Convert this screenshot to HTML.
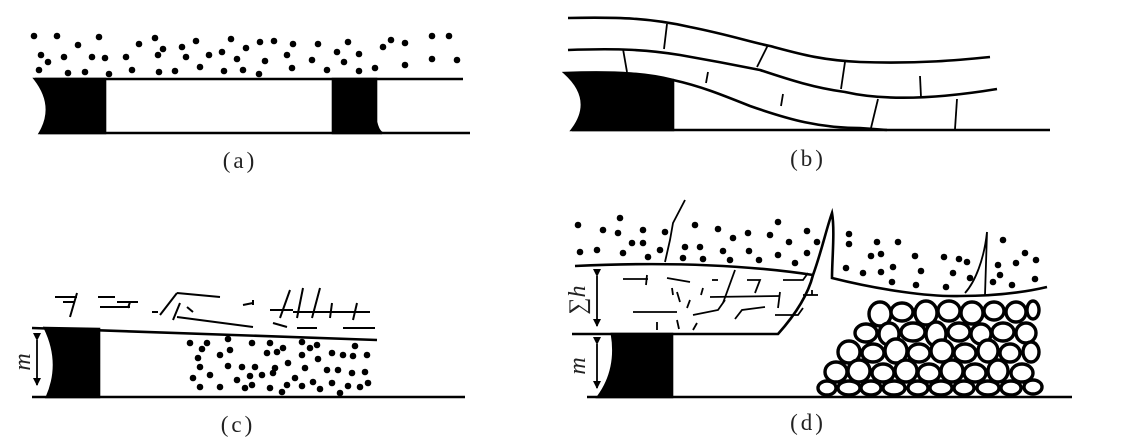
<!DOCTYPE html>
<html><head><meta charset="utf-8"><style>
html,body{margin:0;padding:0;background:#fff;}
svg{display:block;}
text{font-family:"Liberation Serif",serif;fill:#222;}
</style></head><body>
<svg width="1138" height="446" viewBox="0 0 1138 446" xmlns="http://www.w3.org/2000/svg">
<defs>
<marker id="ah" markerWidth="8" markerHeight="10" refX="7" refY="5" orient="auto" markerUnits="userSpaceOnUse">
<path d="M0,1 L8,5 L0,9 Z" fill="#000"/></marker>
</defs>
<g stroke="#000" fill="none" stroke-width="2.6">
<line x1="35" y1="79" x2="463" y2="79"/>
<line x1="40" y1="133" x2="470" y2="133"/>
<path d="M35,79 L105,79 L105,133 L40,133 Q56,106 35,79 Z" fill="#000"/>
<path d="M333,79 L376,79 L376,122 Q378,131 382,133 L333,133 Z" fill="#000"/>
</g>
<g fill="#000">
<circle cx="34" cy="36" r="3.3"/><circle cx="57" cy="36" r="3.3"/><circle cx="99" cy="37" r="3.3"/><circle cx="78" cy="45" r="3.3"/><circle cx="41" cy="55" r="3.3"/><circle cx="48" cy="62" r="3.3"/><circle cx="64" cy="57" r="3.3"/><circle cx="39" cy="70" r="3.3"/><circle cx="68" cy="73" r="3.3"/><circle cx="85" cy="72" r="3.3"/><circle cx="92" cy="57" r="3.3"/><circle cx="105" cy="58" r="3.3"/><circle cx="109" cy="74" r="3.3"/><circle cx="126" cy="57" r="3.3"/><circle cx="132" cy="70" r="3.3"/><circle cx="139" cy="44" r="3.3"/><circle cx="155" cy="38" r="3.3"/><circle cx="163" cy="49" r="3.3"/><circle cx="158" cy="55" r="3.3"/><circle cx="159" cy="72" r="3.3"/><circle cx="175" cy="71" r="3.3"/><circle cx="182" cy="47" r="3.3"/><circle cx="186" cy="57" r="3.3"/><circle cx="196" cy="41" r="3.3"/><circle cx="200" cy="67" r="3.3"/><circle cx="209" cy="55" r="3.3"/><circle cx="222" cy="52" r="3.3"/><circle cx="231" cy="39" r="3.3"/><circle cx="237" cy="59" r="3.3"/><circle cx="246" cy="48" r="3.3"/><circle cx="224" cy="71" r="3.3"/><circle cx="243" cy="70" r="3.3"/><circle cx="260" cy="42" r="3.3"/><circle cx="265" cy="61" r="3.3"/><circle cx="274" cy="41" r="3.3"/><circle cx="259" cy="74" r="3.3"/><circle cx="293" cy="44" r="3.3"/><circle cx="287" cy="55" r="3.3"/><circle cx="292" cy="68" r="3.3"/><circle cx="318" cy="44" r="3.3"/><circle cx="312" cy="60" r="3.3"/><circle cx="327" cy="70" r="3.3"/><circle cx="348" cy="42" r="3.3"/><circle cx="337" cy="52" r="3.3"/><circle cx="344" cy="62" r="3.3"/><circle cx="359" cy="54" r="3.3"/><circle cx="359" cy="71" r="3.3"/><circle cx="375" cy="68" r="3.3"/><circle cx="383" cy="47" r="3.3"/><circle cx="391" cy="40" r="3.3"/><circle cx="405" cy="43" r="3.3"/><circle cx="405" cy="65" r="3.3"/><circle cx="432" cy="36" r="3.3"/><circle cx="449" cy="36" r="3.3"/><circle cx="432" cy="59" r="3.3"/><circle cx="457" cy="60" r="3.3"/>
</g>
<text x="240" y="168" font-size="23" text-anchor="middle" letter-spacing="3">(a)</text>

<g stroke="#000" fill="none" stroke-width="2.6">
<path d="M568,18 C620,17 650,18 690,27 C730,35 750,42 770,46 C800,54 820,60 860,62 C920,64 960,60 990,57"/>
<path d="M568,50 C620,48 650,50 680,55 C720,62 740,66 760,70 C790,80 815,88 845,92 C880,100 930,100 997,89"/>
<path d="M673,80 C700,86 720,94 750,106 C790,120 820,128 860,128 L887,130"/>
<line x1="572" y1="130" x2="1050" y2="130"/>
<path d="M565,73 C620,71 650,74 673,80 L673,130 L572,130 Q595,100 565,73 Z" fill="#000"/>
<g stroke-width="1.8">
<line x1="667" y1="24" x2="664" y2="49"/><line x1="768" y1="45" x2="757" y2="67"/><line x1="845" y1="62" x2="841" y2="89"/>
<line x1="623" y1="49" x2="627" y2="72"/><line x1="708" y1="72" x2="706" y2="83"/><line x1="783" y1="94" x2="781" y2="106"/>
<line x1="878" y1="99" x2="871" y2="128"/><line x1="920" y1="76" x2="921" y2="97"/><line x1="957" y1="99" x2="955" y2="129"/>
</g>
</g>
<text x="808" y="166" font-size="23" text-anchor="middle" letter-spacing="3">(b)</text>

<g stroke="#000" fill="none" stroke-width="2.6">
<line x1="32" y1="328" x2="377" y2="340"/>
<line x1="32" y1="397" x2="465" y2="397"/>
<path d="M45,328 L99,329 L99,397 L47,397 Q62,363 45,328 Z" fill="#000"/>
<line x1="37" y1="340" x2="37" y2="385" stroke-width="1.8" marker-end="url(#ah)" marker-start="url(#ah)"/>
<g stroke-width="2">
<line x1="55" y1="297" x2="77" y2="297"/><line x1="63" y1="302" x2="75" y2="302"/><line x1="77" y1="293" x2="70" y2="317"/>
<line x1="98" y1="297" x2="115" y2="297"/><line x1="100" y1="307" x2="130" y2="307"/><line x1="130" y1="302" x2="128" y2="308"/><line x1="117" y1="302" x2="138" y2="302"/>
<line x1="152" y1="312" x2="158" y2="312"/><line x1="160" y1="315" x2="177" y2="293"/><line x1="177" y1="293" x2="220" y2="297"/><line x1="180" y1="303" x2="173" y2="320"/><line x1="177" y1="317" x2="253" y2="327"/><line x1="187" y1="307" x2="193" y2="312"/>
<line x1="243" y1="305" x2="253" y2="303"/><line x1="253" y1="300" x2="253" y2="305"/>
<line x1="270" y1="310" x2="293" y2="310"/><line x1="290" y1="290" x2="280" y2="318"/><line x1="303" y1="288" x2="297" y2="318"/><line x1="320" y1="288" x2="312" y2="318"/><line x1="293" y1="312" x2="343" y2="312"/><line x1="332" y1="303" x2="330" y2="318"/>
<line x1="357" y1="303" x2="353" y2="320"/><line x1="343" y1="312" x2="370" y2="312"/>
<line x1="273" y1="323" x2="287" y2="327"/><line x1="297" y1="328" x2="317" y2="328"/><line x1="343" y1="328" x2="375" y2="328"/>
</g>
</g>
<text x="22" y="362" font-size="24" font-style="italic" text-anchor="middle" transform="rotate(-90 22 362)" dy="8">m</text>
<g fill="#000">
<circle cx="190" cy="343" r="3.3"/><circle cx="207" cy="343" r="3.3"/><circle cx="202" cy="349" r="3.3"/><circle cx="198" cy="358" r="3.3"/><circle cx="200" cy="367" r="3.3"/><circle cx="193" cy="378" r="3.3"/><circle cx="210" cy="375" r="3.3"/><circle cx="200" cy="387" r="3.3"/><circle cx="228" cy="339" r="3.3"/><circle cx="230" cy="350" r="3.3"/><circle cx="220" cy="355" r="3.3"/><circle cx="228" cy="366" r="3.3"/><circle cx="220" cy="387" r="3.3"/><circle cx="237" cy="380" r="3.3"/><circle cx="242" cy="367" r="3.3"/><circle cx="245" cy="388" r="3.3"/><circle cx="252" cy="343" r="3.3"/><circle cx="252" cy="385" r="3.3"/><circle cx="250" cy="376" r="3.3"/><circle cx="255" cy="367" r="3.3"/><circle cx="262" cy="375" r="3.3"/><circle cx="270" cy="343" r="3.3"/><circle cx="267" cy="353" r="3.3"/><circle cx="277" cy="352" r="3.3"/><circle cx="275" cy="368" r="3.3"/><circle cx="273" cy="373" r="3.3"/><circle cx="270" cy="388" r="3.3"/><circle cx="283" cy="348" r="3.3"/><circle cx="282" cy="392" r="3.3"/><circle cx="288" cy="363" r="3.3"/><circle cx="287" cy="385" r="3.3"/><circle cx="295" cy="378" r="3.3"/><circle cx="302" cy="342" r="3.3"/><circle cx="302" cy="355" r="3.3"/><circle cx="310" cy="348" r="3.3"/><circle cx="317" cy="345" r="3.3"/><circle cx="318" cy="359" r="3.3"/><circle cx="305" cy="368" r="3.3"/><circle cx="302" cy="386" r="3.3"/><circle cx="313" cy="382" r="3.3"/><circle cx="320" cy="389" r="3.3"/><circle cx="327" cy="370" r="3.3"/><circle cx="332" cy="353" r="3.3"/><circle cx="332" cy="383" r="3.3"/><circle cx="338" cy="370" r="3.3"/><circle cx="340" cy="393" r="3.3"/><circle cx="343" cy="355" r="3.3"/><circle cx="352" cy="373" r="3.3"/><circle cx="348" cy="386" r="3.3"/><circle cx="355" cy="346" r="3.3"/><circle cx="353" cy="356" r="3.3"/><circle cx="360" cy="387" r="3.3"/><circle cx="367" cy="355" r="3.3"/><circle cx="365" cy="372" r="3.3"/><circle cx="368" cy="383" r="3.3"/>
</g>
<text x="238" y="432" font-size="23" text-anchor="middle" letter-spacing="3">(c)</text>

<g stroke="#000" fill="none" stroke-width="2.6">
<path d="M575,266 C660,262 740,264 813,275"/>
<path d="M572,334 L778,334 C795,315 808,295 813,275 C822,250 826,230 832,213 C835,230 832,260 832,278 C880,290 930,297 960,296 C1000,296 1030,291 1047,287"/>
<path d="M587,397 L1072,397"/>
<path d="M612,334 L672,334 L672,397 L598,397 Q618,370 612,334 Z" fill="#000"/>
<path d="M685,200 L673,223 L670,240 L665,262" stroke-width="1.8"/>
<path d="M987,232 L985,295 M987,232 C984,260 975,282 965,293" stroke-width="1.8"/>
<line x1="597" y1="276" x2="597" y2="326" stroke-width="1.8" marker-end="url(#ah)" marker-start="url(#ah)"/>
<line x1="597" y1="344" x2="597" y2="388" stroke-width="1.8" marker-end="url(#ah)" marker-start="url(#ah)"/>
<g stroke-width="1.8">
<line x1="623" y1="279" x2="648" y2="279"/><line x1="647" y1="275" x2="646" y2="285"/>
<line x1="667" y1="278" x2="690" y2="282"/><line x1="672" y1="288" x2="673" y2="295"/><line x1="677" y1="292" x2="680" y2="302"/><line x1="703" y1="288" x2="701" y2="295"/><line x1="690" y1="300" x2="687" y2="308"/>
<line x1="712" y1="280" x2="718" y2="280"/><line x1="735" y1="270" x2="723" y2="303"/><line x1="710" y1="297" x2="780" y2="296"/>
<polyline points="747,280 760,280 755,293"/><polyline points="783,280 803,280 808,273"/><line x1="780" y1="292" x2="778" y2="308"/>
<line x1="803" y1="295" x2="818" y2="295"/><line x1="812" y1="290" x2="812" y2="295"/>
<line x1="633" y1="312" x2="677" y2="312"/><polyline points="693,315 718,310 725,300"/><polyline points="735,319 742,310 765,307"/><polyline points="775,315 798,315 803,308"/>
<line x1="657" y1="322" x2="657" y2="330"/><line x1="677" y1="320" x2="679" y2="329"/><line x1="697" y1="323" x2="693" y2="330"/>
</g>
</g>
<text x="577" y="300" font-size="24" font-style="italic" text-anchor="middle" transform="rotate(-90 577 300)" dy="8">∑h</text>
<text x="577" y="366" font-size="24" font-style="italic" text-anchor="middle" transform="rotate(-90 577 366)" dy="8">m</text>
<g fill="#000">
<circle cx="578" cy="225" r="3.3"/><circle cx="580" cy="252" r="3.3"/><circle cx="597" cy="250" r="3.3"/><circle cx="603" cy="230" r="3.3"/><circle cx="620" cy="218" r="3.3"/><circle cx="618" cy="233" r="3.3"/><circle cx="623" cy="253" r="3.3"/><circle cx="632" cy="243" r="3.3"/><circle cx="643" cy="230" r="3.3"/><circle cx="643" cy="243" r="3.3"/><circle cx="648" cy="257" r="3.3"/><circle cx="660" cy="250" r="3.3"/><circle cx="665" cy="232" r="3.3"/><circle cx="695" cy="225" r="3.3"/><circle cx="685" cy="247" r="3.3"/><circle cx="683" cy="258" r="3.3"/><circle cx="700" cy="247" r="3.3"/><circle cx="703" cy="259" r="3.3"/><circle cx="718" cy="229" r="3.3"/><circle cx="723" cy="251" r="3.3"/><circle cx="730" cy="260" r="3.3"/><circle cx="733" cy="238" r="3.3"/><circle cx="748" cy="233" r="3.3"/><circle cx="749" cy="251" r="3.3"/><circle cx="759" cy="260" r="3.3"/><circle cx="770" cy="235" r="3.3"/><circle cx="778" cy="222" r="3.3"/><circle cx="778" cy="255" r="3.3"/><circle cx="789" cy="242" r="3.3"/><circle cx="795" cy="263" r="3.3"/><circle cx="807" cy="231" r="3.3"/><circle cx="807" cy="253" r="3.3"/><circle cx="817" cy="242" r="3.3"/>
<circle cx="849" cy="234" r="3.3"/><circle cx="849" cy="244" r="3.3"/><circle cx="846" cy="268" r="3.3"/><circle cx="863" cy="273" r="3.3"/><circle cx="871" cy="256" r="3.3"/><circle cx="877" cy="242" r="3.3"/><circle cx="881" cy="254" r="3.3"/><circle cx="881" cy="272" r="3.3"/><circle cx="893" cy="267" r="3.3"/><circle cx="892" cy="282" r="3.3"/><circle cx="898" cy="242" r="3.3"/><circle cx="915" cy="256" r="3.3"/><circle cx="921" cy="271" r="3.3"/><circle cx="916" cy="285" r="3.3"/><circle cx="944" cy="257" r="3.3"/><circle cx="953" cy="273" r="3.3"/><circle cx="946" cy="287" r="3.3"/><circle cx="959" cy="259" r="3.3"/><circle cx="967" cy="262" r="3.3"/><circle cx="970" cy="278" r="3.3"/><circle cx="993" cy="282" r="3.3"/><circle cx="998" cy="265" r="3.3"/><circle cx="1000" cy="275" r="3.3"/><circle cx="1003" cy="240" r="3.3"/><circle cx="1012" cy="285" r="3.3"/><circle cx="1016" cy="263" r="3.3"/><circle cx="1025" cy="253" r="3.3"/><circle cx="1036" cy="260" r="3.3"/><circle cx="1035" cy="279" r="3.3"/>
</g>
<g stroke="#000" stroke-width="3.4" fill="#fff">
<ellipse cx="880" cy="314" rx="11" ry="12"/><ellipse cx="902" cy="312" rx="11" ry="9"/><ellipse cx="926" cy="313" rx="11" ry="12"/><ellipse cx="949" cy="311" rx="11" ry="10"/><ellipse cx="972" cy="313" rx="11" ry="11"/><ellipse cx="994" cy="311" rx="10" ry="9"/><ellipse cx="1016" cy="312" rx="10" ry="10"/><ellipse cx="1033" cy="310" rx="6" ry="9"/>
<ellipse cx="866" cy="333" rx="11" ry="9"/><ellipse cx="889" cy="334" rx="10" ry="11"/><ellipse cx="913" cy="332" rx="12" ry="9"/><ellipse cx="936" cy="334" rx="10" ry="12"/><ellipse cx="959" cy="332" rx="11" ry="9"/><ellipse cx="981" cy="334" rx="10" ry="10"/><ellipse cx="1003" cy="332" rx="11" ry="9"/><ellipse cx="1026" cy="333" rx="10" ry="10"/>
<ellipse cx="849" cy="352" rx="11" ry="11"/><ellipse cx="873" cy="353" rx="11" ry="9"/><ellipse cx="896" cy="351" rx="11" ry="12"/><ellipse cx="919" cy="353" rx="11" ry="9"/><ellipse cx="942" cy="351" rx="11" ry="11"/><ellipse cx="965" cy="353" rx="11" ry="9"/><ellipse cx="988" cy="351" rx="10" ry="11"/><ellipse cx="1010" cy="353" rx="10" ry="9"/><ellipse cx="1031" cy="352" rx="8" ry="10"/>
<ellipse cx="836" cy="372" rx="11" ry="10"/><ellipse cx="859" cy="371" rx="11" ry="11"/><ellipse cx="883" cy="373" rx="11" ry="9"/><ellipse cx="906" cy="371" rx="11" ry="11"/><ellipse cx="929" cy="373" rx="11" ry="9"/><ellipse cx="952" cy="371" rx="11" ry="11"/><ellipse cx="975" cy="373" rx="11" ry="9"/><ellipse cx="998" cy="371" rx="10" ry="11"/><ellipse cx="1022" cy="373" rx="11" ry="9"/>
<ellipse cx="827" cy="388" rx="9" ry="7"/><ellipse cx="849" cy="388" rx="11" ry="7"/><ellipse cx="871" cy="388" rx="10" ry="7"/><ellipse cx="894" cy="388" rx="11" ry="7"/><ellipse cx="918" cy="388" rx="10" ry="7"/><ellipse cx="941" cy="388" rx="11" ry="7"/><ellipse cx="964" cy="388" rx="10" ry="7"/><ellipse cx="988" cy="388" rx="11" ry="7"/><ellipse cx="1011" cy="388" rx="10" ry="7"/><ellipse cx="1033" cy="387" rx="9" ry="7"/>
</g>
<text x="808" y="430" font-size="23" text-anchor="middle" letter-spacing="3">(d)</text>
</svg>
</body></html>
